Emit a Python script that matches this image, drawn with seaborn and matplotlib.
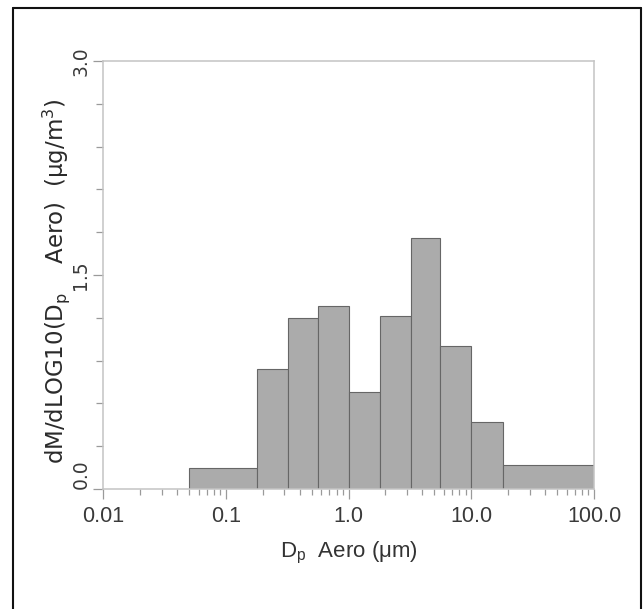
import numpy as np
import pandas as pd
import matplotlib
matplotlib.use("Agg")
import matplotlib.pyplot as plt
import seaborn as sns
from matplotlib.lines import Line2D
from matplotlib.ticker import (FixedLocator, FixedFormatter, LogLocator,
                               MultipleLocator, NullFormatter)

# Aerodynamic diameter bin edges (µm) and mass distribution per bin
bin_edges_um = [0.05, 0.18, 0.32, 0.56, 1.0, 1.8, 3.2, 5.6, 10.0, 18.0, 100.0]
dm_dlogdp = [0.15, 0.84, 1.20, 1.28, 0.68, 1.21, 1.76, 1.00, 0.47, 0.17]

x_tick_values = [0.01, 0.1, 1.0, 10.0, 100.0]
x_tick_labels = ["0.01", "0.1", "1.0", "10.0", "100.0"]
y_tick_values = [0.0, 1.5, 3.0]
y_tick_labels = ["0.0", "1.5", "3.0"]

sns.set_theme(style="white")
plt.rcParams["font.family"] = ["DejaVu Sans"]
narrow = ["Liberation Sans Narrow", "Liberation Sans", "DejaVu Sans"]

edges = np.array(bin_edges_um)
centers = np.sqrt(edges[:-1] * edges[1:])
df = pd.DataFrame({"dp": centers, "mass": dm_dlogdp})

fig = plt.figure(figsize=(6.43, 6.09), dpi=100)
ax = fig.add_axes([103 / 643, 1 - 489 / 609, 491 / 643, 428 / 609])

# bins are given in log10 units because the axis is log scaled
sns.histplot(data=df, x="dp", weights="mass",
             bins=[float(v) for v in np.log10(edges)],
             log_scale=True, stat="count", element="bars", fill=True,
             color="#ababab", edgecolor="#666666", linewidth=0.8, alpha=1.0,
             ax=ax)

ax.set_xlim(0.01, 100)
ax.set_ylim(0, 3.0)

ax.xaxis.set_major_locator(FixedLocator(x_tick_values))
ax.xaxis.set_major_formatter(FixedFormatter(x_tick_labels))
ax.xaxis.set_minor_locator(LogLocator(base=10, subs=np.arange(2, 10)))
ax.xaxis.set_minor_formatter(NullFormatter())
ax.yaxis.set_major_locator(FixedLocator(y_tick_values))
ax.yaxis.set_major_formatter(FixedFormatter(y_tick_labels))
ax.yaxis.set_minor_locator(MultipleLocator(0.3))

ax.tick_params(which="both", bottom=True, left=True, direction="out",
               color="#9a9a9a", width=0.9, labelcolor="#3a3a3a")
ax.tick_params(axis="x", which="major", length=7.5, pad=5)
ax.tick_params(axis="x", which="minor", length=4.5)
ax.tick_params(axis="y", which="major", length=7.5, pad=1.5)
ax.tick_params(axis="y", which="minor", length=5)

for lab in ax.get_xticklabels():
    lab.set_family(narrow)
    lab.set_fontsize(15.5)
for lab in ax.get_yticklabels():
    lab.set_fontsize(13.5)
    lab.set_rotation(90)
    lab.set_va("center")
# the lowest label sits above its tick so it stays inside the axis height
ax.get_yticklabels()[0].set_va("bottom")

for sp in ax.spines.values():
    sp.set_color("#c4c4c4")
    sp.set_linewidth(1.1)

ax.set_xlabel(r"D$_\mathregular{p}$  Aero ($\mathregular{\mu}$m)",
              family=narrow, fontsize=16, color="#333333", labelpad=9)
ax.set_ylabel(r"dM/dLOG10(D$_\mathregular{p}$    Aero)  ($\mathregular{\mu}$g/m$^3$)",
              fontsize=16.5, color="#2a2a2a")
ax.yaxis.set_label_coords(-0.063, 0.485)

# outer frame around the figure (open at the bottom)
x0, x1, y1 = 12.7 / 643, 641 / 643, 1 - 7.5 / 609
for xs, ys in [([x0, x0], [0, y1]), ([x0, x1], [y1, y1]), ([x1, x1], [y1, 0])]:
    fig.add_artist(Line2D(xs, ys, transform=fig.transFigure,
                          color="#111111", lw=1.5))

fig.savefig("out.png", dpi=100)
